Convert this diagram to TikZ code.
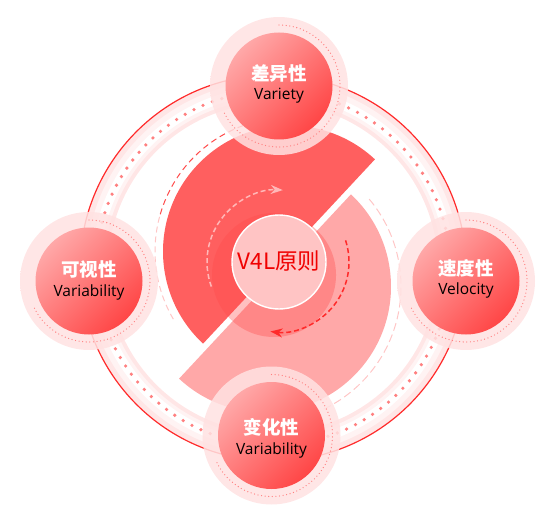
\documentclass[tikz,border=0pt]{standalone}
\usepackage{fontspec}
\setmainfont{Noto Sans CJK SC}
\newfontfamily\enfont{Open Sans}
\usetikzlibrary{arrows.meta,fadings}
\definecolor{darkp}{HTML}{FF5F5F}
\definecolor{lightp}{HTML}{FFA8A8}
\definecolor{centp}{HTML}{FFC4C4}
\definecolor{ringred}{HTML}{FF2A2A}
\definecolor{dotp}{HTML}{FF8080}
\definecolor{nodeA}{HTML}{FFA8A8}
\definecolor{nodeB}{HTML}{FF4646}
\definecolor{txtred}{HTML}{F00000}
\definecolor{bandA}{HTML}{FFE6E6}
\definecolor{bandB}{HTML}{FFF3F3}
\definecolor{haloIn}{HTML}{FFE2E2}
\definecolor{haloMid}{HTML}{FFF9F9}
\definecolor{haloOut}{HTML}{FFEDED}
\definecolor{palearrow}{HTML}{FFB8B8}
\definecolor{paledash}{HTML}{FFC6C6}
\definecolor{shadowc}{HTML}{FF4A4A}
\pgfdeclareradialshading{haloshade}{\pgfpoint{0bp}{0bp}}{color(0bp)=(haloIn); color(39bp)=(haloIn); color(44bp)=(haloMid); color(49bp)=(haloOut); color(50bp)=(haloOut)}
\pgfdeclareradialshading{shadowshade}{\pgfpoint{0bp}{0bp}}{color(0bp)=(transparent!0); color(25bp)=(transparent!0); color(50bp)=(transparent!100)}
\pgfdeclarefading{shadowfade}{\pgfuseshading{shadowshade}}
\tikzset{
  nodecirc/.style={circle, minimum size=107pt, inner sep=0pt, top color=nodeA, bottom color=nodeB, shading angle=45},
  cntext/.style={text=white, inner sep=0pt, font=\bfseries\fontsize{18.5pt}{18.5pt}\selectfont},
  entext/.style={text=black, inner sep=0pt, font=\enfont\fontsize{15.5pt}{15.5pt}\selectfont},
  halo/.style={shading=haloshade, fill opacity=0.85},
  nodedots/.style={dotp, line width=1.3pt, line cap=round, dash pattern=on 0pt off 3.6pt},
}
\begin{document}
\begin{tikzpicture}[x=1pt,y=1pt]
\useasboundingbox (0,0) rectangle (546,515);
% outer ring
\coordinate (O) at (273,247);
\draw[line width=28pt, bandA] (O) circle[radius=179pt];
\draw[line width=18pt, bandB] (O) circle[radius=178pt];
\draw[line width=9pt, white] (O) circle[radius=177pt];
\draw[dotp, line width=3.6pt, line cap=round, dash pattern=on 0pt off 10pt] (O) circle[radius=177pt];
\draw[ringred, line width=1.2pt] (O) circle[radius=193pt];
% half disks
\coordinate (D) at (289,263.5);
\coordinate (L) at (265,228.5);
\draw[ringred!85, line width=1pt, dash pattern=on 6pt off 4pt] (D) ++(110:134pt) arc[start angle=110, end angle=165, radius=134pt];
\draw[paledash, line width=1pt, dash pattern=on 6pt off 4pt] (D) ++(165:134pt) arc[start angle=165, end angle=212, radius=134pt];
\draw[paledash, line width=1pt, dash pattern=on 8pt off 4pt] (L) ++(40:136pt) arc[start angle=40, end angle=-82, radius=136pt];
\fill[darkp] (D) ++(47:126pt) arc[start angle=47, end angle=227, radius=126pt] -- cycle;
\fill[lightp] (L) ++(227:126pt) arc[start angle=227, end angle=407, radius=126pt] -- cycle;
% centre
\fill[shadowc, path fading=shadowfade, fill opacity=0.35] (274,240) circle[radius=62pt];
\node[circle, fill=centp, draw=white, line width=1.4pt, minimum size=94pt, inner sep=0pt] (C) at (279,253) {};
\node[text=txtred, inner sep=0pt, font=\fontsize{22.5pt}{22.5pt}\selectfont] (Ct) at (279,254) {V4L原则};
% arrows
\draw[palearrow, line width=1.5pt, dash pattern=on 5pt off 3pt, -{Stealth[length=12pt, width=9pt]}] (C.center) ++(200:72pt) arc[start angle=200, end angle=87, radius=72pt];
\draw[ringred, line width=1.5pt, dash pattern=on 5pt off 3pt, -{Stealth[length=12pt, width=9pt]}] (C.center) ++(18:70pt) arc[start angle=18, end angle=-97, radius=70pt];
% nodes
\foreach \nm/\px/\py/\sh/\cn/\en in {T/279/429/0/差异性/Variety, Lf/89/234/-1.5/可视性/Variability, Rt/466/234/0/速度性/Velocity, B/271.5/79.5/-5/变化性/Variability}{
  \shade[halo] (\px,\py) circle[radius=69pt];
  \draw[nodedots] (\px,\py) ++(90:61pt) arc[start angle=90, end angle=-156, radius=61pt];
  \node[nodecirc] (\nm) at (\px,\py) {};
  \node[cntext] (\nm-cn) at ([yshift=13pt+\sh pt]\nm.center) {\cn};
  \node[entext] (\nm-en) at ([yshift=-9.5pt+\sh pt]\nm.center) {\en};
}
\end{tikzpicture}
\end{document}
